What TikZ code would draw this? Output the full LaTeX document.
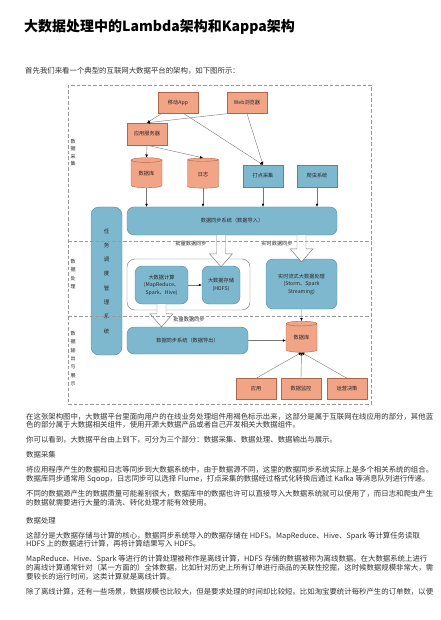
\documentclass[tikz,border=0pt]{standalone}
\usepackage{fontspec}
\setmainfont{Noto Sans CJK SC}
\usetikzlibrary{arrows.meta,positioning,shapes.geometric,calc}
\definecolor{Web}{HTML}{F2A486}
\definecolor{WebLine}{HTML}{B0664B}
\definecolor{Big}{HTML}{7EB8CE}
\definecolor{BigLine}{HTML}{4B8AA3}
\definecolor{Frame}{HTML}{9A9A9A}
\definecolor{Wire}{HTML}{777777}
\definecolor{Ink}{HTML}{262626}
\definecolor{Body}{HTML}{333333}
\tikzset{
  tiny/.style={font=\fontsize{5.2}{7.5}\selectfont,text=Ink},
  webbox/.style={tiny,draw=WebLine,fill=Web,minimum width=40pt,minimum height=21pt,inner sep=0pt},
  bigbox/.style={tiny,draw=BigLine,fill=Big,minimum width=40pt,minimum height=22pt,inner sep=0pt},
  roundbox/.style={bigbox,rounded corners=7pt,align=center},
  store/.style={tiny,cylinder,shape border rotate=90,aspect=0.3,draw=WebLine,fill=Web,minimum width=31pt,minimum height=30pt,inner sep=0pt},
  wire/.style={draw=Wire,line width=0.4pt,-{Latex[length=3pt,width=2.6pt,black]}},
  hollow/.style={draw=Wire,fill=white,line width=0.45pt,
    to path={let \p1=(\tikztostart), \p2=(\tikztotarget) in
      (\x1-4.5pt,\y1) -- (\x1-4.5pt,\y2+13pt) -- (\x1-11.5pt,\y2+13pt) -- (\x1,\y2)
      -- (\x1+11.5pt,\y2+13pt) -- (\x1+4.5pt,\y2+13pt) -- (\x1+4.5pt,\y1)}},
  section/.style={font=\fontsize{5}{8.3}\selectfont,text=Ink,align=center,inner sep=0pt},
  para/.style={anchor=base west,inner sep=0pt,font=\fontsize{7.4}{9}\selectfont,text=Body},
  sep/.style={draw=Frame,dash pattern=on 3.5pt off 2pt,line width=0.6pt}
}
\begin{document}
\begin{tikzpicture}[x=1pt,y=-1pt]
  \fill[white] (0,0) rectangle (440,620);
  \useasboundingbox (0,0) rectangle (440,620);

  \node[anchor=base west,inner sep=0pt,font=\fontsize{14}{16}\selectfont\bfseries,text=black] (title) at (24,32) {大数据处理中的Lambda架构和Kappa架构};
  \node[para] (intro) at (25,73.8) {首先我们来看一个典型的互联网大数据平台的架构，如下图所示：};

  \draw[sep] (68,85) rectangle (371,404);

  \node[webbox] (app) at (178,103) {移动App};
  \node[webbox] (browser) at (247,103) {Web浏览器};
  \node[webbox,minimum height=22pt] (server) at (147,134) {应用服务器};
  \node[store] (db) at (146.5,174) {数据库};
  \node[store] (log) at (203,174) {日志};
  \node[bigbox] (track) at (263,176) {打点采集};
  \node[bigbox] (crawler) at (317,176) {爬虫系统};
  \node[roundbox,minimum width=210pt,minimum height=28pt] (syncin) at (232,221) {数据同步系统（数据导入）};
  \node[roundbox,minimum width=31pt,minimum height=148pt,rounded corners=8pt,font=\fontsize{5.5}{14.3}\selectfont] (sched) at (106.5,281) {任\\务\\调\\度\\管\\理\\系\\统};

  \node[draw=Wire,fill=white,rounded corners=8pt,minimum width=123pt,minimum height=51pt] (batch) at (188.5,284.5) {};
  \node[roundbox,minimum width=53pt,minimum height=38pt] (compute) at (161.5,285) {大数据计算\\(MapReduce、\\Spark、Hive)};
  \node[roundbox,minimum width=38pt,minimum height=38pt] (hdfs) at (221,285) {大数据存储\\(HDFS)};
  \node[roundbox,minimum width=71pt,minimum height=50pt] (stream) at (301.5,284) {实时流式大数据处理\\(Storm、Spark\\Streaming)};

  \node[roundbox,minimum width=121pt,minimum height=27pt] (syncout) at (187.5,340.5) {数据同步系统（数据导出）};
  \node[store,minimum height=31pt] (outdb) at (301.5,338) {数据库};
  \node[webbox] (use) at (256,389) {应用};
  \node[webbox] (monitor) at (301,389) {数据监控};
  \node[webbox] (ops) at (347,389) {运营决策};

  \draw[wire] (app) -- (server.north);
  \draw[wire] (browser.south west) -- (server.north);
  \draw[wire] ([xshift=6pt]app.south) -- (track.north);
  \draw[wire] (browser.south) -- (track.north);
  \draw[wire] (server.south) -- (db.north);
  \draw[wire] (server.south) -- (log.north);
  \foreach \src in {db,log,track,crawler}
    \draw[wire] (\src.south) -- (\src.south |- syncin.north);
  \draw[wire] (compute) -- (hdfs);
  \draw[wire] (stream.south) -- (outdb.north);
  \draw[wire] (syncout.east) -- (syncout.east -| outdb.west);
  \foreach \src in {use,monitor,ops}
    \draw[wire] (\src.north) -- (outdb.south);

  \draw[hollow] (hdfs.north |- syncin.south) to ([yshift=-1pt]hdfs.north);
  \draw[hollow] (stream.north |- syncin.south) to ([yshift=-3pt]stream.north);
  \draw[hollow] (compute.south) to (syncout.north);
  \node[tiny] (lblin) at (191,244) {批量数据同步};
  \node[tiny] (lblrt) at (277,244) {实时数据同步};
  \node[tiny] (lblout) at (189,320) {批量数据同步};

  \draw[sep] (68,241) -- (371,241);
  \draw[sep] (68,316) -- (371,316);
  \node[section,font=\fontsize{5}{7.2}\selectfont] (secA) at (73,152.5) {数\\据\\采\\集};
  \node[section] (secB) at (73,274) {数\\据\\处\\理};
  \node[section] (secC) at (73,358.5) {数\\据\\输\\出\\与\\展\\示};

  \node[para] (p1a) at (26,419.1) {在这张架构图中，大数据平台里面向用户的在线业务处理组件用褐色标示出来，这部分是属于互联网在线应用的部分，其他蓝};
  \node[para] (p1b) at (26,427.9) {色的部分属于大数据相关组件，使用开源大数据产品或者自己开发相关大数据组件。};
  \node[para] (p2) at (26,442.9) {你可以看到，大数据平台由上到下，可分为三个部分：数据采集、数据处理、数据输出与展示。};
  \node[para] (h1) at (26,457.9) {数据采集};
  \node[para] (p3a) at (26,472.9) {将应用程序产生的数据和日志等同步到大数据系统中，由于数据源不同，这里的数据同步系统实际上是多个相关系统的组合。};
  \node[para] (p3b) at (26,481.7) {数据库同步通常用 Sqoop，日志同步可以选择 Flume，打点采集的数据经过格式化转换后通过 Kafka 等消息队列进行传递。};
  \node[para] (p4a) at (26,496.7) {不同的数据源产生的数据质量可能差别很大，数据库中的数据也许可以直接导入大数据系统就可以使用了，而日志和爬虫产生};
  \node[para] (p4b) at (26,505.5) {的数据就需要进行大量的清洗、转化处理才能有效使用。};
  \node[para] (h2) at (26,523.6) {数据处理};
  \node[para] (p5a) at (26,538.1) {这部分是大数据存储与计算的核心，数据同步系统导入的数据存储在 HDFS。MapReduce、Hive、Spark 等计算任务读取};
  \node[para] (p5b) at (26,546.9) {HDFS 上的数据进行计算，再将计算结果写入 HDFS。};
  \node[para] (p6a) at (26,561.4) {MapReduce、Hive、Spark 等进行的计算处理被称作是离线计算，HDFS 存储的数据被称为离线数据。在大数据系统上进行};
  \node[para] (p6b) at (26,570.2) {的离线计算通常针对（某一方面的）全体数据，比如针对历史上所有订单进行商品的关联性挖掘，这时候数据规模非常大，需};
  \node[para] (p6c) at (26,579) {要较长的运行时间，这类计算就是离线计算。};
  \node[para] (p7) at (26,594.6) {除了离线计算，还有一些场景，数据规模也比较大，但是要求处理的时间却比较短。比如淘宝要统计每秒产生的订单数，以便};
\end{tikzpicture}
\end{document}
